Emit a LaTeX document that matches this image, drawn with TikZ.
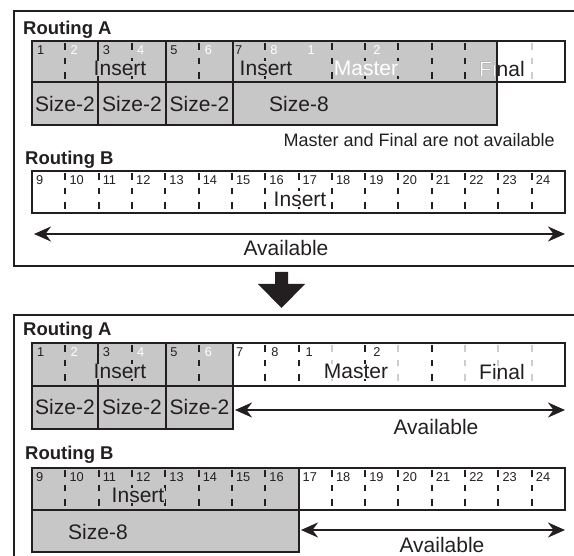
\documentclass[tikz,border=0pt]{standalone}
\usepackage{fontspec}
\setmainfont{Liberation Sans}
\usetikzlibrary{arrows.meta}
\definecolor{cellgray}{RGB}{199,199,199}
\definecolor{ink}{RGB}{35,31,32}
\definecolor{lightdash}{RGB}{205,205,205}
\tikzset{
  panel/.style={draw=ink, line width=2.2pt},
  box/.style={draw=ink, line width=2.3pt},
  dashdiv/.style={draw=ink, line width=2pt, dash pattern=on 6.5pt off 8pt, dash phase=12pt},
  lightdiv/.style={draw=lightdash, line width=2pt, dash pattern=on 6.5pt off 8pt, dash phase=12pt},
  num/.style={font=\fontsize{12.8}{12.8}\selectfont, text=ink, anchor=west, inner sep=0pt},
  wnum/.style={num, text=white},
  lbl/.style={font=\fontsize{21}{21}\selectfont, text=ink, inner sep=0.5pt},
  head/.style={font=\bfseries\fontsize{18.5}{18.5}\selectfont, text=ink, anchor=base west, inner sep=0pt},
  note/.style={font=\fontsize{18}{18}\selectfont, text=ink, anchor=base east, inner sep=0pt},
  arr/.style={draw=ink, line width=2pt, {Stealth[length=17pt,width=15pt]}-{Stealth[length=17pt,width=15pt]}}
}
\newcommand{\sx}[1]{32+33.3125*#1}
\begin{document}
\begin{tikzpicture}[x=1pt,y=-1pt]
\useasboundingbox (0,0) rectangle (574,556);
\clip (0,0) rectangle (574,556);

% ================= Panel 1 =================
\draw[panel] (14,11) rectangle (590,266);
\node[head] (hA1) at (23,35) {Routing A};

% Routing A (top)
\fill[cellgray] (32,41) rectangle (497,125);
\foreach \k in {1,3,5,7,9,10,11,12,13}
  \draw[dashdiv] ({\sx{\k}},41) -- ({\sx{\k}},82);
\draw[lightdiv] ({\sx{15}},41) -- ({\sx{15}},82);
\draw[box] (32,41) rectangle (497,125);
\draw[box] (497,41) rectangle (565,82);
\draw[box] (32,82) -- (497,82);
\foreach \xx in {98,166,233} \draw[box] (\xx,41) -- (\xx,125);

\node[num]  (a1n1) at ({\sx{0}+5},50.5) {1};
\node[wnum] (a1n2) at ({\sx{1}+5},50.5) {2};
\node[num]  (a1n3) at ({\sx{2}+4},50.5) {3};
\node[wnum] (a1n4) at ({\sx{3}+5},50.5) {4};
\node[num]  (a1n5) at ({\sx{4}+5},50.5) {5};
\node[wnum] (a1n6) at ({\sx{5}+6},50.5) {6};
\node[num]  (a1n7) at ({\sx{6}+3},50.5) {7};
\node[wnum] (a1n8) at ({\sx{7}+5},50.5) {8};
\node[wnum] (a1m1) at ({\sx{8}+9},50.5) {1};
\node[wnum] (a1m2) at ({\sx{10}+8},50.5) {2};

\node[lbl, fill=cellgray] (a1ins) at (120,68.5) {Insert};
\node[lbl, fill=cellgray] (a1ins2) at (266,68.5) {Insert};
\node[lbl, fill=cellgray, text=white] (a1mas) at (366,68.5) {Master};
\node[lbl] (a1fin) at (502,68.5) {Final};
\begin{scope}
  \clip (32,41) rectangle (497,82);
  \node[lbl, text=white] (a1finw) at (502,68.5) {Final};
\end{scope}

\node[lbl] (a1s1) at (65,104) {Size-2};
\node[lbl] (a1s2) at (132,104) {Size-2};
\node[lbl] (a1s3) at (199.5,104) {Size-2};
\node[lbl] (a1s8) at (299,104) {Size-8};

\node[note] (notA) at (555,147) {Master and Final are not available};

% Routing B (top)
\node[head] (hB1) at (25,165) {Routing B};
\foreach \k in {1,...,15}
  \draw[dashdiv] ({\sx{\k}},171) -- ({\sx{\k}},213);
\draw[box] (32,171) rectangle (565,213);
\foreach \k [evaluate=\k as \lab using int(\k+9)] in {0,...,15}
  \node[num] (b1n\k) at ({\sx{\k}+4},180) {\lab};
\node[lbl, fill=white] (b1ins) at (300,199) {Insert};

\coordinate (b1L) at (34,234);
\coordinate (b1R) at (565,234);
\draw[arr] (b1L) -- (b1R);
\node[lbl] (b1av) at (286,248) {Available};

% ================= Down arrow =================
\fill[ink] (275,272) -- (288,272) -- (288,284) -- (305,284) -- (281.5,308)
  -- (258,284) -- (275,284) -- cycle;

% ================= Panel 2 =================
\draw[panel] (14,315) rectangle (590,570);
\node[head] (hA2) at (23,336) {Routing A};

\fill[cellgray] (32,343) rectangle (233,429);
\foreach \k in {1,3,5,7,8,10,12}
  \draw[dashdiv] ({\sx{\k}},343) -- ({\sx{\k}},386);
\foreach \k in {9,11,13,14,15}
  \draw[lightdiv] ({\sx{\k}},343) -- ({\sx{\k}},386);
\draw[box] (32,343) rectangle (233,429);
\draw[box] (233,343) rectangle (565,386);
\draw[box] (32,386) -- (233,386);
\foreach \xx in {98,166} \draw[box] (\xx,343) -- (\xx,429);

\node[num]  (a2n1) at ({\sx{0}+5},352.5) {1};
\node[wnum] (a2n2) at ({\sx{1}+5},352.5) {2};
\node[num]  (a2n3) at ({\sx{2}+4},352.5) {3};
\node[wnum] (a2n4) at ({\sx{3}+5},352.5) {4};
\node[num]  (a2n5) at ({\sx{4}+5},352.5) {5};
\node[wnum] (a2n6) at ({\sx{5}+6},352.5) {6};
\node[num]  (a2n7) at ({\sx{6}+4},352.5) {7};
\node[num]  (a2n8) at ({\sx{7}+6},352.5) {8};
\node[num]  (a2m1) at ({\sx{8}+7},352.5) {1};
\node[num]  (a2m2) at ({\sx{10}+8},352.5) {2};

\node[lbl, fill=cellgray] (a2ins) at (120,371.5) {Insert};
\node[lbl, fill=white] (a2mas) at (356,371.5) {Master};
\node[lbl] (a2fin) at (502,371.5) {Final};

\node[lbl] (a2s1) at (65,407) {Size-2};
\node[lbl] (a2s2) at (132,407) {Size-2};
\node[lbl] (a2s3) at (199.5,407) {Size-2};

\coordinate (a2L) at (235,410);
\coordinate (a2R) at (565,410);
\draw[arr] (a2L) -- (a2R);
\node[lbl] (a2av) at (436,427) {Available};

% Routing B (bottom)
\node[head] (hB2) at (25,460) {Routing B};
\fill[cellgray] (32,468) rectangle (299,552);
\foreach \k in {1,...,7,9,10,11,12,13,14,15}
  \draw[dashdiv] ({\sx{\k}},468) -- ({\sx{\k}},510);
\draw[box] (32,468) rectangle (299,552);
\draw[box] (299,468) rectangle (565,510);
\draw[box] (32,510) -- (299,510);
\foreach \k [evaluate=\k as \lab using int(\k+9)] in {0,...,15}
  \node[num] (b2n\k) at ({\sx{\k}+4},477) {\lab};
\node[lbl, fill=cellgray] (b2ins) at (138,495.5) {Insert};
\node[lbl] (b2s8) at (98,532) {Size-8};

\coordinate (b2L) at (301,530);
\coordinate (b2R) at (565,530);
\draw[arr] (b2L) -- (b2R);
\node[lbl] (b2av) at (442,545) {Available};
\end{tikzpicture}
\end{document}
